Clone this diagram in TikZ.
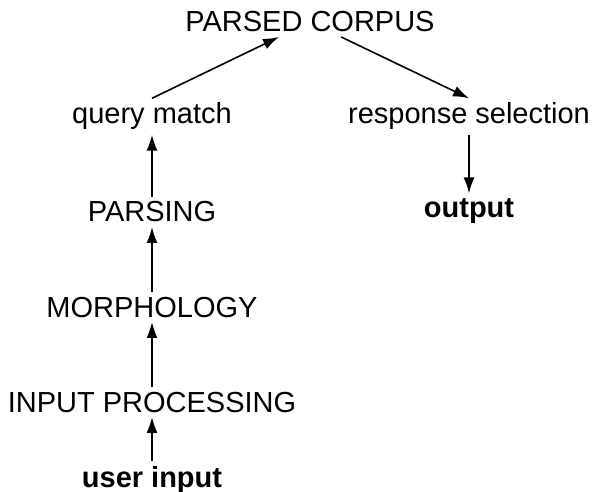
\documentclass[tikz,border=0pt]{standalone}
\usepackage{fontspec}
\setmainfont{Liberation Sans}
\usetikzlibrary{arrows.meta}
\begin{document}
\begin{tikzpicture}[x=1pt,y=-1pt,
  lbl/.style={anchor=base,inner xsep=0pt,inner ysep=4.5pt,font=\fontsize{29}{35}\selectfont},
  blbl/.style={lbl,font=\fontsize{29}{35}\selectfont\bfseries},
  arr/.style={line width=1.6pt,-{Latex[length=16pt,width=11pt]}}]
\useasboundingbox (0,0) rectangle (592,492);
\node[lbl] (pc) at (310,32) {PARSED CORPUS};
\node[lbl] (qm) at (152,124) {query match};
\node[lbl] (rs) at (469,124) {response selection};
\node[lbl] (pa) at (152,222) {PARSING};
\node[blbl] (out) at (469,217) {output};
\node[lbl] (mo) at (152,317) {MORPHOLOGY};
\node[lbl] (ip) at (152,412) {INPUT PROCESSING};
\node[blbl] (ui) at (152,487) {user input};
\draw[arr] (qm.north) -- (pc);
\draw[arr] (pc) -- (rs.north);
\draw[arr] (rs.south) -- (out.north);
\draw[arr] (pa.north) -- (qm.south);
\draw[arr] (mo.north) -- (pa.south);
\draw[arr] (ip.north) -- (mo.south);
\draw[arr] (ui.north) -- (ip.south);
\end{tikzpicture}
\end{document}
